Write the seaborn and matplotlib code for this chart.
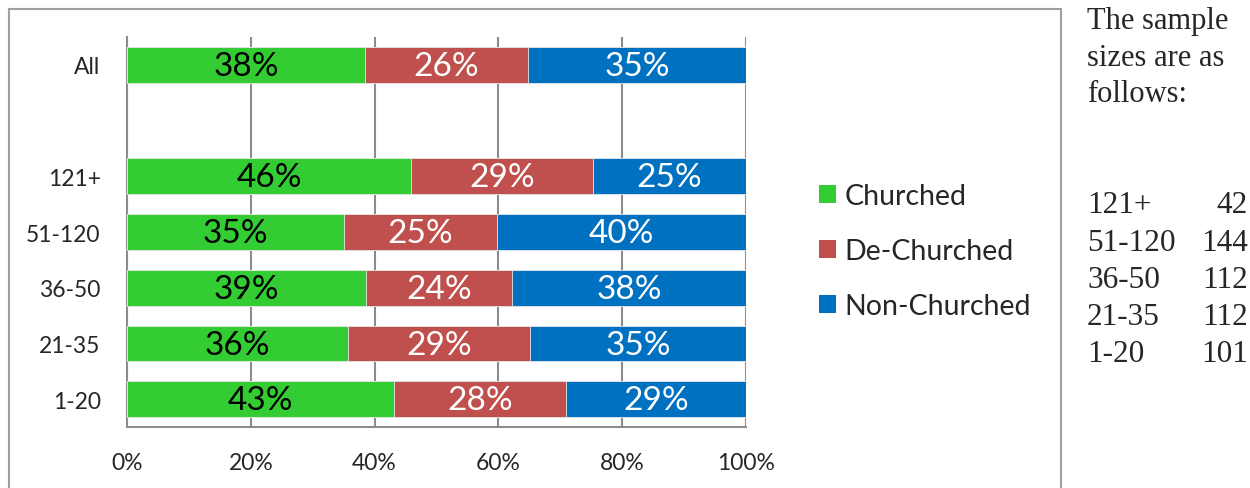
import numpy as np
import pandas as pd
import matplotlib
matplotlib.use('Agg')
import matplotlib.pyplot as plt
from matplotlib.patches import Patch, Rectangle
from matplotlib.ticker import FixedLocator, PercentFormatter
import seaborn as sns


# ===================================
# Data (percent of each size group)
# ===================================
GROUPS       = ['All', '121+', '51-120', '36-50', '21-35', '1-20']
ROW_ORDER    = ['All', ' ', '121+', '51-120', '36-50', '21-35', '1-20']
CHURCHED     = [38.4, 45.9, 35.1, 38.6, 35.7, 43.1]
DE_CHURCHED  = [26.4, 29.4, 24.6, 23.6, 29.4, 27.8]
NON_CHURCHED = [35.2, 24.7, 40.3, 37.8, 34.9, 29.1]

SERIES = ['Churched', 'De-Churched', 'Non-Churched']
COLORS = ['#33CC33', '#C0504D', '#0070C0']
LABEL_COLORS = ['black', 'white', 'white']

SAMPLE_GROUPS = ['121+', '51-120', '36-50', '21-35', '1-20']
SAMPLE_SIZES  = [42, 144, 112, 112, 101]

FONT  = 'Lato'
SERIF = 'Liberation Serif'


# ===================================
# Build stacked table
# ===================================
df = pd.DataFrame({
    'group': GROUPS,
    'Churched': CHURCHED,
    'De-Churched': DE_CHURCHED,
    'Non-Churched': NON_CHURCHED,
})
cum = df[SERIES].cumsum(axis=1)
starts = cum - df[SERIES]

sns.set_style('white')
plt.rcParams['font.family'] = [FONT, 'DejaVu Sans']

fig = plt.figure(figsize=(12.5, 4.89), dpi=100)
W, H = 1250, 489
ax = fig.add_axes([127 / W, 1 - 428 / H, (746 - 127) / W, (428 - 38) / H])

# outer frame
fig.patches.append(Rectangle((9 / W, -0.1), (1061 - 9) / W, 1.1 - 10 / H,
                             transform=fig.transFigure, fill=False,
                             edgecolor='#A0A0A0', linewidth=1.5, zorder=0))

# draw from the full stack down so each segment shows
for name, color in reversed(list(zip(SERIES, COLORS))):
    plot_df = pd.DataFrame({'group': df['group'], 'value': cum[name]})
    sns.barplot(data=plot_df, x='value', y='group', order=ROW_ORDER,
                color=color, saturation=1, width=0.64, orient='h',
                edgecolor='#E8E8E8', linewidth=0.6, ax=ax, zorder=3)

# segment labels
for i, grp in enumerate(df['group']):
    ypos = ROW_ORDER.index(grp)
    for name, tcol in zip(SERIES, LABEL_COLORS):
        v = df.loc[i, name]
        xc = starts.loc[i, name] + v / 2
        ax.text(xc, ypos + 0.02, f'{v:.0f}%', ha='center', va='center',
                fontsize=24, color=tcol, zorder=5)

# axes styling
ax.set_xlim(0, 100)
ax.set_ylim(len(ROW_ORDER) - 0.5, -0.5)
ax.set_xlabel('')
ax.set_ylabel('')
ax.xaxis.set_major_locator(FixedLocator([0, 20, 40, 60, 80, 100]))
ax.xaxis.set_major_formatter(PercentFormatter(decimals=0))
ax.yaxis.set_minor_locator(FixedLocator(np.arange(-0.5, len(ROW_ORDER), 1)))
ax.tick_params(axis='y', which='major', length=0, pad=19, labelsize=16.5)
ax.tick_params(axis='y', which='minor', length=7, width=1.5, color='#8C8C8C')
ax.tick_params(axis='x', which='major', length=7, width=1.5, color='#8C8C8C',
               labelsize=16.5, pad=11)
ax.grid(axis='x', color='#8C8C8C', linewidth=1.5, zorder=0)
ax.set_axisbelow(True)
for side in ['top', 'right']:
    ax.spines[side].set_visible(False)
for side in ['left', 'bottom']:
    ax.spines[side].set_color('#8C8C8C')
    ax.spines[side].set_linewidth(1.5)

# legend
handles = [Patch(facecolor=c, edgecolor='none', label=s) for s, c in zip(SERIES, COLORS)]
fig.legend(handles=handles, loc='center left',
           bbox_to_anchor=(793 / W, 1 - 252 / H), frameon=False,
           fontsize=20.5, handlelength=0.6, handleheight=0.6,
           handletextpad=0.3, labelspacing=1.02)

# sample size note
for k, line in enumerate(['The sample', 'sizes are as', 'follows:']):
    fig.text(1087 / W, 1 - (22 + 36.5 * k) / H, line, fontsize=22,
             family=SERIF, va='center', ha='left')
for k, (g, n) in enumerate(zip(SAMPLE_GROUPS, SAMPLE_SIZES)):
    y = 1 - (206 + 37.2 * k) / H
    fig.text(1087 / W, y, g, fontsize=22.5, family=SERIF, va='center', ha='left')
    fig.text(1248 / W, y, str(n), fontsize=22.5, family=SERIF, va='center', ha='right')

fig.savefig('out.png', dpi=100)
